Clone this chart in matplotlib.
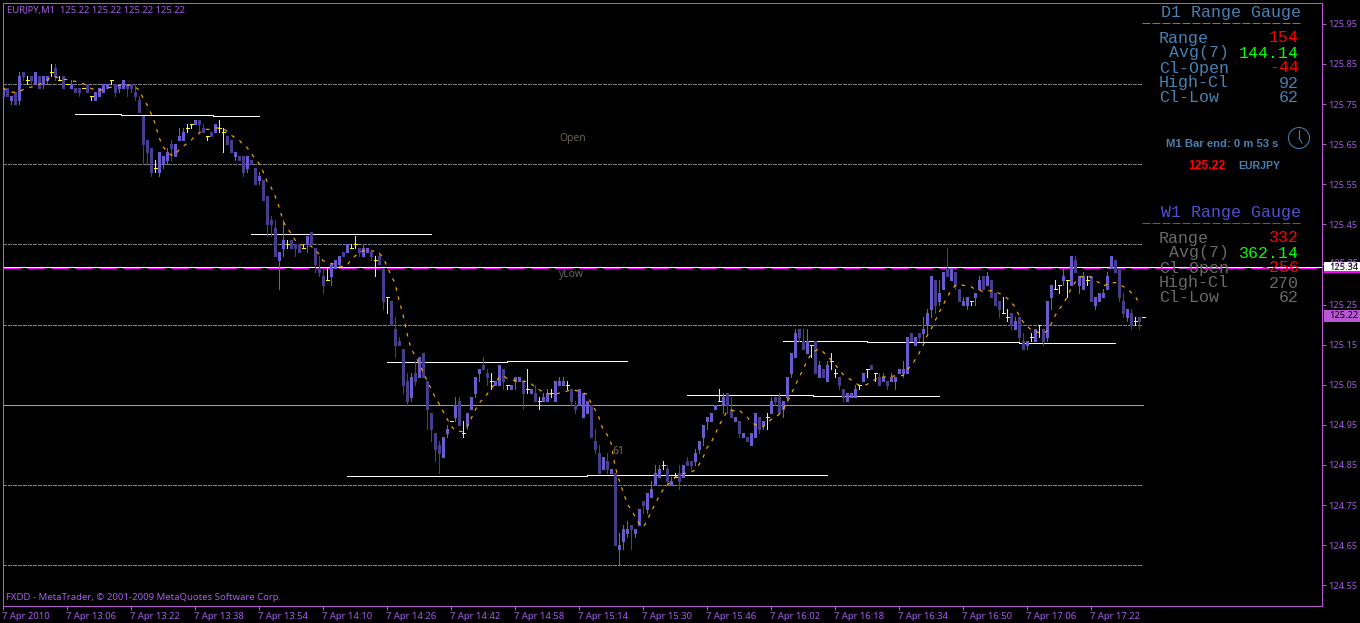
import matplotlib
matplotlib.use('Agg')
import matplotlib.pyplot as plt
from matplotlib.patches import Rectangle, Circle
from matplotlib.lines import Line2D
from matplotlib.transforms import Affine2D

# one minute EURJPY bars
opens = [125.77,125.79,125.76,125.78,125.76,125.83,125.81,125.82,125.80,125.82,
125.80,125.81,125.83,125.84,125.81,125.82,125.80,125.79,125.79,125.79,
125.79,125.80,125.77,125.76,125.77,125.78,125.79,125.81,125.80,125.79,
125.79,125.80,125.80,125.78,125.76,125.72,125.66,125.64,125.59,125.58,
125.60,125.61,125.65,125.62,125.66,125.66,125.69,125.70,125.70,125.71,
125.69,125.67,125.68,125.68,125.69,125.68,125.67,125.66,125.62,125.62,
125.62,125.59,125.61,125.59,125.56,125.56,125.52,125.46,125.44,125.36,
125.39,125.40,125.41,125.40,125.40,125.39,125.40,125.43,125.39,125.34,
125.32,125.31,125.32,125.34,125.35,125.38,125.38,125.39,125.40,125.39,
125.37,125.38,125.38,125.36,125.37,125.34,125.27,125.26,125.19,125.16,
125.14,125.06,125.02,125.08,125.07,125.13,125.06,124.98,124.93,124.90,
124.87,124.93,124.96,124.97,125.01,124.93,124.95,124.99,125.03,125.08,
125.10,125.08,125.06,125.05,125.05,125.09,125.05,125.04,125.06,125.06,
125.06,125.04,125.03,125.03,125.01,125.01,125.01,125.03,125.01,125.05,
125.05,125.05,125.04,125.00,125.00,124.97,124.98,125.00,124.91,124.88,
124.84,124.86,124.83,124.83,124.64,124.66,124.68,124.70,124.68,124.70,
124.76,124.74,124.77,124.80,124.82,124.85,124.84,124.80,124.82,124.83,
124.82,124.86,124.86,124.86,124.89,124.92,124.96,124.96,124.99,125.01,
125.00,125.03,124.99,124.96,124.96,124.92,124.92,124.90,124.92,124.97,
124.95,124.97,124.98,125.02,125.02,124.99,125.02,125.08,125.12,125.19,
125.16,125.13,125.15,125.16,125.07,125.09,125.06,125.11,125.08,125.07,
125.04,125.01,125.02,125.02,125.05,125.06,125.09,125.10,125.08,125.07,
125.06,125.06,125.06,125.06,125.08,125.08,125.08,125.18,125.15,125.18,
125.18,125.20,125.24,125.31,125.26,125.29,125.34,125.31,125.33,125.29,
125.25,125.25,125.26,125.27,125.29,125.32,125.30,125.31,125.28,125.26,
125.23,125.22,125.23,125.19,125.22,125.16,125.15,125.17,125.16,125.20,
125.19,125.17,125.27,125.29,125.30,125.31,125.31,125.30,125.36,125.30,
125.29,125.31,125.32,125.25,125.26,125.27,125.29,125.34,125.36,125.34,
125.26,125.22,125.23,125.21,125.22,125.22]
highs = [125.79,125.79,125.77,125.78,125.83,125.83,125.82,125.82,125.83,125.82,
125.82,125.82,125.85,125.85,125.82,125.82,125.80,125.81,125.79,125.79,
125.79,125.80,125.77,125.78,125.79,125.80,125.80,125.81,125.80,125.80,
125.81,125.80,125.80,125.80,125.77,125.72,125.66,125.64,125.61,125.63,
125.62,125.64,125.66,125.65,125.69,125.69,125.70,125.70,125.71,125.71,
125.70,125.67,125.68,125.70,125.71,125.69,125.67,125.66,125.63,125.62,
125.62,125.62,125.61,125.59,125.58,125.56,125.52,125.47,125.46,125.38,
125.46,125.41,125.41,125.40,125.40,125.40,125.42,125.43,125.39,125.37,
125.34,125.34,125.35,125.36,125.37,125.38,125.40,125.40,125.42,125.39,
125.40,125.39,125.38,125.37,125.38,125.34,125.27,125.26,125.22,125.17,
125.14,125.08,125.08,125.11,125.12,125.13,125.06,124.98,124.93,124.91,
124.92,124.95,124.96,125.02,125.02,124.96,124.98,125.02,125.07,125.09,
125.12,125.09,125.08,125.06,125.10,125.09,125.05,125.05,125.07,125.07,
125.06,125.09,125.04,125.05,125.02,125.03,125.04,125.04,125.06,125.07,
125.07,125.06,125.04,125.01,125.04,125.03,125.01,125.00,124.94,124.90,
124.87,124.88,124.84,124.83,124.68,124.70,124.71,124.70,124.69,124.74,
124.76,124.78,124.81,124.85,124.85,124.86,124.85,124.82,124.83,124.85,
124.85,124.87,124.86,124.89,124.91,124.95,124.97,124.98,125.00,125.04,
125.03,125.03,125.02,124.97,124.96,124.93,124.92,124.93,124.98,124.97,
124.96,124.98,125.02,125.02,125.03,125.01,125.07,125.13,125.19,125.19,
125.19,125.19,125.15,125.16,125.11,125.09,125.11,125.13,125.09,125.07,
125.04,125.03,125.03,125.05,125.05,125.08,125.09,125.10,125.08,125.08,
125.08,125.06,125.08,125.07,125.09,125.11,125.17,125.18,125.17,125.18,
125.22,125.24,125.32,125.31,125.31,125.33,125.39,125.34,125.33,125.29,
125.27,125.27,125.26,125.28,125.32,125.32,125.33,125.31,125.28,125.26,
125.27,125.24,125.23,125.22,125.22,125.18,125.16,125.18,125.19,125.20,
125.19,125.26,125.30,125.31,125.30,125.34,125.31,125.37,125.37,125.32,
125.33,125.32,125.32,125.27,125.28,125.29,125.33,125.37,125.36,125.34,
125.28,125.24,125.24,125.22,125.22,125.22]
lows = [125.77,125.77,125.75,125.75,125.75,125.81,125.80,125.80,125.80,125.79,
125.79,125.80,125.82,125.81,125.81,125.79,125.80,125.79,125.78,125.77,
125.79,125.78,125.76,125.76,125.77,125.78,125.79,125.80,125.77,125.78,
125.79,125.77,125.78,125.76,125.73,125.60,125.60,125.57,125.58,125.57,
125.59,125.60,125.61,125.62,125.66,125.66,125.68,125.69,125.70,125.68,
125.68,125.66,125.67,125.68,125.68,125.63,125.65,125.63,125.61,125.61,
125.57,125.58,125.60,125.55,125.55,125.51,125.42,125.42,125.37,125.29,
125.37,125.39,125.39,125.37,125.38,125.39,125.38,125.40,125.33,125.32,
125.28,125.31,125.30,125.34,125.35,125.37,125.38,125.39,125.39,125.37,
125.37,125.38,125.36,125.32,125.35,125.24,125.23,125.20,125.12,125.15,
125.03,125.00,125.01,125.05,125.07,125.07,124.94,124.91,124.86,124.83,
124.87,124.92,124.96,124.96,124.95,124.92,124.94,124.99,125.02,125.06,
125.09,125.05,125.04,125.05,125.05,125.04,125.04,125.04,125.04,125.06,
124.99,125.03,125.03,125.01,124.99,125.01,125.01,125.02,125.01,125.05,
125.05,125.04,125.00,124.98,125.00,124.97,124.98,124.92,124.88,124.83,
124.84,124.83,124.83,124.65,124.60,124.64,124.67,124.64,124.67,124.70,
124.73,124.73,124.77,124.80,124.82,124.84,124.80,124.80,124.82,124.79,
124.82,124.85,124.84,124.85,124.88,124.90,124.94,124.96,124.99,125.01,
124.98,124.98,124.97,124.96,124.92,124.92,124.91,124.90,124.92,124.93,
124.94,124.94,124.98,125.00,124.98,124.97,125.01,125.07,125.12,125.16,
125.14,125.13,125.12,125.08,125.07,125.07,125.06,125.09,125.07,125.04,
125.01,125.01,125.02,125.02,125.04,125.06,125.07,125.09,125.06,125.05,
125.06,125.04,125.06,125.04,125.08,125.07,125.08,125.16,125.15,125.16,
125.16,125.18,125.22,125.23,125.25,125.29,125.32,125.31,125.29,125.26,
125.25,125.24,125.25,125.25,125.29,125.29,125.30,125.27,125.25,125.22,
125.23,125.21,125.19,125.19,125.16,125.14,125.14,125.16,125.16,125.17,
125.15,125.16,125.24,125.29,125.28,125.30,125.27,125.30,125.33,125.28,
125.29,125.30,125.26,125.24,125.26,125.27,125.29,125.34,125.33,125.26,
125.22,125.21,125.19,125.20,125.19,125.22]
closes = [125.79,125.77,125.77,125.75,125.82,125.82,125.81,125.81,125.83,125.79,
125.82,125.82,125.83,125.82,125.81,125.79,125.80,125.80,125.78,125.78,
125.79,125.78,125.77,125.78,125.79,125.80,125.80,125.81,125.78,125.80,
125.81,125.79,125.79,125.77,125.73,125.65,125.63,125.58,125.59,125.63,
125.62,125.63,125.64,125.65,125.67,125.68,125.69,125.70,125.71,125.70,
125.68,125.67,125.67,125.70,125.69,125.68,125.65,125.63,125.63,125.61,
125.58,125.62,125.60,125.55,125.57,125.51,125.45,125.45,125.37,125.38,
125.41,125.40,125.39,125.39,125.38,125.39,125.42,125.40,125.35,125.33,
125.30,125.31,125.35,125.36,125.37,125.37,125.40,125.39,125.40,125.38,
125.39,125.39,125.37,125.36,125.35,125.26,125.27,125.20,125.15,125.15,
125.05,125.01,125.07,125.06,125.12,125.07,124.99,124.94,124.89,124.88,
124.92,124.94,124.96,125.00,124.95,124.93,124.98,125.02,125.07,125.09,
125.09,125.07,125.06,125.06,125.10,125.06,125.05,125.05,125.07,125.07,
125.03,125.04,125.04,125.01,125.01,125.02,125.03,125.03,125.06,125.06,
125.06,125.05,125.01,124.99,125.04,125.03,125.01,124.92,124.89,124.83,
124.87,124.84,124.84,124.65,124.65,124.69,124.69,124.69,124.69,124.74,
124.75,124.78,124.79,124.83,124.84,124.85,124.81,124.81,124.82,124.81,
124.85,124.85,124.85,124.88,124.91,124.95,124.97,124.98,125.00,125.01,
125.02,125.00,124.97,124.97,124.93,124.93,124.91,124.93,124.98,124.94,
124.96,124.97,125.01,125.01,124.98,125.01,125.07,125.13,125.18,125.17,
125.14,125.16,125.15,125.08,125.10,125.07,125.10,125.11,125.08,125.05,
125.02,125.03,125.03,125.04,125.05,125.08,125.09,125.09,125.08,125.05,
125.07,125.05,125.07,125.07,125.09,125.09,125.17,125.16,125.17,125.17,
125.19,125.23,125.32,125.25,125.28,125.33,125.32,125.34,125.30,125.26,
125.26,125.27,125.26,125.28,125.31,125.29,125.32,125.27,125.25,125.24,
125.23,125.22,125.20,125.21,125.17,125.14,125.16,125.17,125.19,125.20,
125.16,125.26,125.30,125.29,125.30,125.32,125.31,125.37,125.33,125.32,
125.32,125.31,125.26,125.27,125.28,125.28,125.32,125.37,125.33,125.27,
125.23,125.24,125.20,125.21,125.21,125.22]
ma = [125.790,125.784,125.780,125.779,125.780,125.786,125.791,125.792,125.796,125.799,
125.804,125.809,125.818,125.818,125.815,125.812,125.811,125.807,125.807,125.804,
125.801,125.796,125.789,125.786,125.784,125.786,125.790,125.792,125.794,125.797,
125.797,125.797,125.797,125.792,125.786,125.765,125.748,125.727,125.702,125.667,
125.644,125.632,125.623,125.622,125.636,125.644,125.652,125.659,125.671,125.677,
125.686,125.687,125.687,125.690,125.691,125.689,125.682,125.673,125.666,125.661,
125.648,125.642,125.627,125.615,125.602,125.582,125.557,125.543,125.521,125.494,
125.459,125.440,125.428,125.411,125.401,125.398,125.396,125.396,125.386,125.376,
125.359,125.356,125.353,125.350,125.346,125.345,125.347,125.363,125.371,125.379,
125.384,125.384,125.384,125.383,125.378,125.368,125.346,125.323,125.303,125.261,
125.225,125.178,125.140,125.123,125.104,125.082,125.061,125.040,125.019,125.003,
124.984,124.965,124.948,124.936,124.934,124.933,124.944,124.965,124.986,125.004,
125.015,125.026,125.040,125.053,125.068,125.073,125.066,125.063,125.061,125.059,
125.059,125.058,125.053,125.044,125.038,125.032,125.029,125.026,125.026,125.029,
125.031,125.034,125.038,125.036,125.034,125.030,125.026,125.005,124.988,124.968,
124.938,124.926,124.905,124.847,124.813,124.784,124.755,124.738,124.722,124.705,
124.695,124.709,124.734,124.751,124.772,124.788,124.799,124.809,124.818,124.824,
124.828,124.830,124.832,124.837,124.851,124.868,124.893,124.905,124.926,124.948,
124.966,124.984,124.987,124.984,124.987,124.978,124.970,124.957,124.951,124.945,
124.945,124.955,124.963,124.968,124.976,124.988,125.005,125.026,125.047,125.068,
125.088,125.109,125.126,125.134,125.140,125.132,125.123,125.112,125.101,125.088,
125.076,125.069,125.062,125.055,125.049,125.047,125.051,125.057,125.063,125.068,
125.069,125.070,125.071,125.072,125.073,125.073,125.087,125.097,125.112,125.128,
125.148,125.172,125.188,125.209,125.230,125.248,125.268,125.284,125.297,125.301,
125.298,125.297,125.295,125.288,125.287,125.282,125.283,125.285,125.282,125.278,
125.274,125.266,125.257,125.244,125.223,125.207,125.197,125.187,125.184,125.180,
125.177,125.184,125.201,125.222,125.238,125.251,125.268,125.290,125.305,125.318,
125.320,125.322,125.318,125.309,125.305,125.295,125.301,125.303,125.305,125.301,
125.295,125.290,125.280,125.272,125.253]

grid_prices = [125.80, 125.60, 125.40, 125.20, 124.80, 124.60]
level_price = 125.00
hline_white = 125.3436
hline_pink = 125.3412

# white trend line pieces, in bars
seg_start = [17.9, 29.6, 52.6, 61.9, 95.9, 125.9, 85.9, 145.9, 170.9, 202.6, 194.9, 215.9, 254.1]
seg_end = [29.6, 52.6, 63.9, 106.9, 125.9, 155.9, 145.9, 205.9, 202.6, 233.9, 215.9, 254.1, 277.9]
seg_price = [125.7252, 125.7227, 125.7202, 125.4259, 125.1067, 125.1092, 124.8224, 124.8249, 125.0244, 125.0219,
             125.1591, 125.1566, 125.1541]

y_ticks = [125.95, 125.85, 125.75, 125.65, 125.55, 125.45, 125.35, 125.25, 125.15, 125.05, 124.95, 124.85, 124.75, 124.65, 124.55]
x_ticks = list(range(0, 273, 16))
x_labels = ['7 Apr 2010', '7 Apr 13:06', '7 Apr 13:22', '7 Apr 13:38', '7 Apr 13:54', '7 Apr 14:10', '7 Apr 14:26',
            '7 Apr 14:42', '7 Apr 14:58', '7 Apr 15:14', '7 Apr 15:30', '7 Apr 15:46', '7 Apr 16:02', '7 Apr 16:18',
            '7 Apr 16:34', '7 Apr 16:50', '7 Apr 17:06', '7 Apr 17:22']

gauge_labels = ['Range', 'Avg(7)', 'Cl-Open', 'High-Cl', 'Cl-Low']
d1_values = ['154', '144.14', '-44', '92', '62']
w1_values = ['332', '362.14', '-256', '270', '62']

BULL = '#6A5ACD'
BEAR = '#483D8B'
DOJI = '#FFFF00'
ORCHID = '#BA55D3'
TXT = '#A65CE6'
STEEL = '#4682B4'
GAUGE_DIM = '#696969'
PX = 0.72  # one screen pixel in points

fig = plt.figure(figsize=(13.6, 6.23), dpi=100, facecolor='black')
ax = fig.add_axes([3 / 1360, 17 / 623, 1319 / 1360, 603 / 623], facecolor='black')
ax.set_xlim(0, 329.75)
ax.set_ylim(124.49825, 126.0020)

for s in ax.spines.values():
    s.set_color(ORCHID)
    s.set_linewidth(PX)

# screen pixels, origin at top left, for the overlay labels
px = Affine2D().scale(1, -1).translate(0, 623)

last_bar = len(opens) - 1
ax.hlines(grid_prices, 0, last_bar, colors='#808080', linewidth=PX, linestyles=(0, (4, 2)), antialiased=False, zorder=1)
ax.hlines(level_price, 0, last_bar, colors='#C89B3C', linewidth=PX, antialiased=False, zorder=1)
ax.hlines(hline_white, 0, 329.75, colors='white', linewidth=PX, antialiased=False, zorder=1)
ax.hlines(hline_pink, 0, 329.75, colors='#FF00FF', linewidth=PX, linestyles=(0, (18, 6)), antialiased=False, zorder=1)

for a, b, p in zip(seg_start, seg_end, seg_price):
    ax.plot([a, b], [p, p], color='white', linewidth=PX, antialiased=False, zorder=2)

# candles, the small offsets keep them on whole pixels
for i in range(len(opens)):
    o, h, l, c = opens[i], highs[i], lows[i], closes[i]
    if o == c:
        col = DOJI
    elif c > o:
        col = BULL
    else:
        col = BEAR
    ax.vlines(i, l, h, colors=col, linewidth=PX, antialiased=False, zorder=3)
    if o == c:
        ax.hlines(c, i - 0.25, i + 0.5, colors=col, linewidth=PX, antialiased=False, zorder=3)
    else:
        ax.bar(i + 0.05, abs(c - o), width=0.5, bottom=min(o, c), color=col, edgecolor=col, linewidth=PX, antialiased=False, zorder=3)

ax.plot(range(len(ma)), ma, color='#FFA500', linewidth=0.85, linestyle=(0, (3, 5)), zorder=4)

ax.yaxis.tick_right()
ax.set_yticks(y_ticks)
ax.set_yticklabels([f'{v:.2f}' for v in y_ticks], family='Noto Sans', fontsize=6.6)
ax.set_xticks(x_ticks)
ax.set_xticklabels(x_labels, family='Noto Sans', fontsize=6.8, ha='left')
ax.tick_params(axis='both', length=2.9, width=PX, color=ORCHID, labelcolor=TXT, pad=1.6)
for lab in ax.get_xticklabels():
    lab.set_transform(lab.get_transform() + Affine2D().translate(-1.5, 0))

# texts inside the chart
fig.text(7, 10, 'EURJPY,M1  125.22 125.22 125.22 125.22', transform=px, color=TXT, family='Noto Sans', fontsize=6.8, va='center')
fig.text(6, 597, 'FXDD - MetaTrader, © 2001-2009 MetaQuotes Software Corp.', transform=px, color=TXT, family='Noto Sans', fontsize=6.9, va='center')
fig.text(559, 139, 'Open', transform=px, color='#6B6650', family='Noto Sans', fontsize=7.4, va='center')
fig.text(559, 274, 'yLow', transform=px, color='#5F6660', family='Noto Sans', fontsize=7.4, va='center')
fig.text(612, 452, '61', transform=px, color='#77705A', family='Noto Sans', fontsize=7.4, va='center')


def gauge(title, top, title_col, label_col, values, value_cols):
    fig.text(1161, top, title, transform=px, color=title_col, family='Liberation Mono', fontsize=12, va='center')
    fig.add_artist(Line2D([1142, 1300], [top + 10, top + 10], transform=px, color=title_col, linewidth=PX, linestyle=(0, (8, 2))))
    for n in range(5):
        y = top + 25 + 15 * n
        x = 1169 if n == 1 else 1159
        fig.text(x, y, gauge_labels[n], transform=px, color=label_col, family='Liberation Mono', fontsize=12, va='center')
        fig.text(1299, y, values[n], transform=px, color=value_cols[n], family='Liberation Mono', fontsize=12, va='center', ha='right', zorder=5)


gauge('D1 Range Gauge', 13, STEEL, STEEL, d1_values, ['#FF0000', '#00FF00', '#FF0000', STEEL, STEEL])
gauge('W1 Range Gauge', 213, '#4F4FD0', GAUGE_DIM, w1_values, ['#FF0000', '#00FF00', '#FF0000', GAUGE_DIM, GAUGE_DIM])

fig.text(1166, 144, 'M1 Bar end: 0 m 53 s', transform=px, color=STEEL, family='Liberation Sans', fontsize=8.1, weight='bold', va='center')
fig.text(1188, 166, '125.22', transform=px, color='#FF0000', family='Liberation Sans', fontsize=8.7, weight='bold', va='center')
fig.text(1238, 166, 'EURJPY', transform=px, color=STEEL, family='Liberation Sans', fontsize=7.6, weight='bold', va='center')

# clock icon
fig.add_artist(Circle((1299, 138), 10.5, transform=px, fill=False, edgecolor=STEEL, linewidth=PX))
fig.add_artist(Line2D([1299, 1299], [138, 130], transform=px, color=STEEL, linewidth=PX))
fig.add_artist(Line2D([1299, 1302], [138, 143], transform=px, color=STEEL, linewidth=PX))

# price boxes on the right scale
fig.add_artist(Rectangle((1324, 262), 36, 11, transform=px, facecolor='white', edgecolor='none'))
fig.add_artist(Rectangle((1324, 271), 36, 2, transform=px, facecolor='#FF00FF', edgecolor='none'))
fig.text(1329, 264, '125.35', transform=px, color=TXT, family='Noto Sans', fontsize=6.6, va='center')
fig.text(1329, 267, '125.34', transform=px, color='black', family='Noto Sans', fontsize=6.6, va='center')
fig.add_artist(Rectangle((1324, 310), 36, 12, transform=px, facecolor=ORCHID, edgecolor='none'))
fig.text(1329, 316, '125.22', transform=px, color='black', family='Noto Sans', fontsize=6.6, va='center')

fig.savefig('out.png', dpi=100, facecolor='black')
